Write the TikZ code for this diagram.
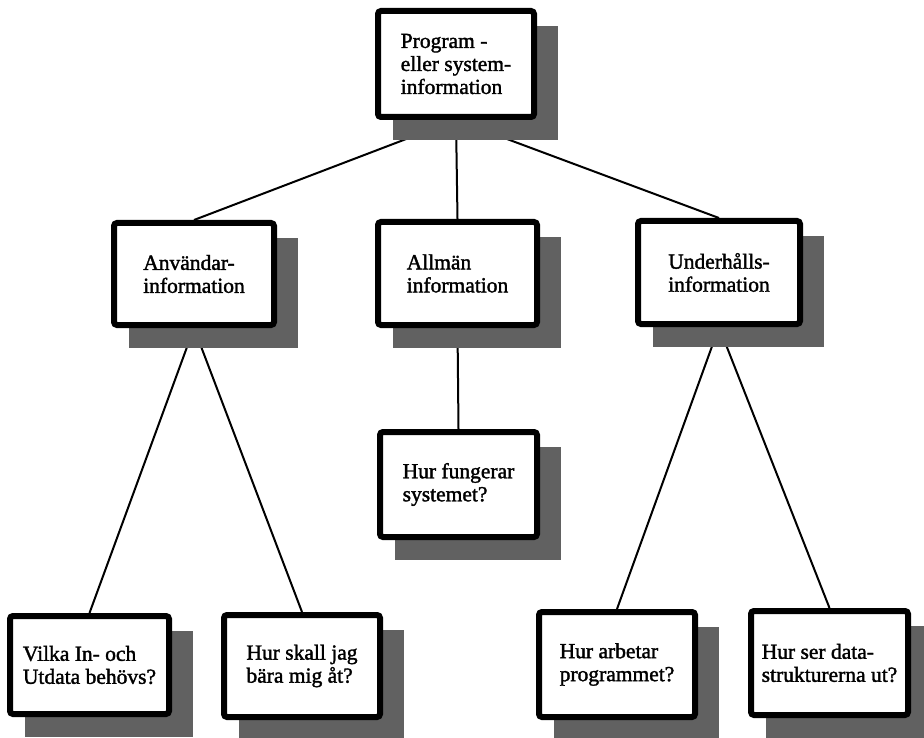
\documentclass[tikz,border=0pt]{standalone}
\usepackage{fontspec}
\setmainfont{Liberation Serif}[FakeBold=1.6]
\pgfdeclarelayer{paper}
\pgfdeclarelayer{links}
\pgfdeclarelayer{shade}
\pgfsetlayers{paper,links,shade,main}
\tikzset{
  infobox/.style={draw, line width=6pt, rounded corners=3pt, fill=white,
    align=left, inner sep=0pt, font=\fontsize{21.5}{23}\selectfont},
  link/.style={line width=2pt},
  boxshadow/.style={fill=black!62}
}
\begin{document}
\begin{tikzpicture}[x=1pt,y=-1pt]
\clip (0,0) rectangle (924,738);
\begin{pgfonlayer}{paper}
\fill[white] (0,0) rectangle (924,738);
\end{pgfonlayer}

% boxes
\node[infobox, minimum width=156pt, minimum height=106pt] (top)  at (456,64)    {Program -\\eller system-\\information};
\node[infobox, minimum width=160pt, minimum height=102pt] (anv)  at (194,274)   {Användar-\\information};
\node[infobox, minimum width=159pt, minimum height=103pt] (allm) at (457.5,273.5) {Allmän\\information};
\node[infobox, minimum width=162pt, minimum height=103pt] (und)  at (719,272.5) {Underhålls-\\information};
\node[infobox, minimum width=157pt, minimum height=105pt] (fung) at (458.5,484.5) {Hur fungerar\\systemet?};
\node[infobox, minimum width=159pt, minimum height=98pt]  (vilka) at (89.5,665) {Vilka In- och\\Utdata behövs?};
\node[infobox, minimum width=156pt, minimum height=102pt] (skall) at (302,666)  {Hur skall jag\\bära mig åt?};
\node[infobox, minimum width=156pt, minimum height=105pt] (arb)  at (617,664.5) {Hur arbetar\\programmet?};
\node[infobox, minimum width=157pt, minimum height=104pt] (ser)  at (829.5,663) {Hur ser data-\\strukturerna ut?};

% drop shadows
\begin{pgfonlayer}{shade}
\foreach \n in {top,anv,allm,und,fung,vilka,skall,arb,ser}
  \fill[boxshadow] ([shift={(18,18)}]\n.north west) rectangle ([shift={(21,20)}]\n.south east);
\end{pgfonlayer}

% connectors
\begin{pgfonlayer}{links}
\draw[link] (top.south) -- (anv.north);
\draw[link] (top.south) -- (allm.north);
\draw[link] (top.south) -- (und.north);
\draw[link] (anv.south) -- (vilka.north);
\draw[link] (anv.south) -- (skall.north);
\draw[link] (allm.south) -- (fung.north);
\draw[link] (und.south) -- (arb.north);
\draw[link] (und.south) -- (ser.north);
\end{pgfonlayer}
\end{tikzpicture}
\end{document}
